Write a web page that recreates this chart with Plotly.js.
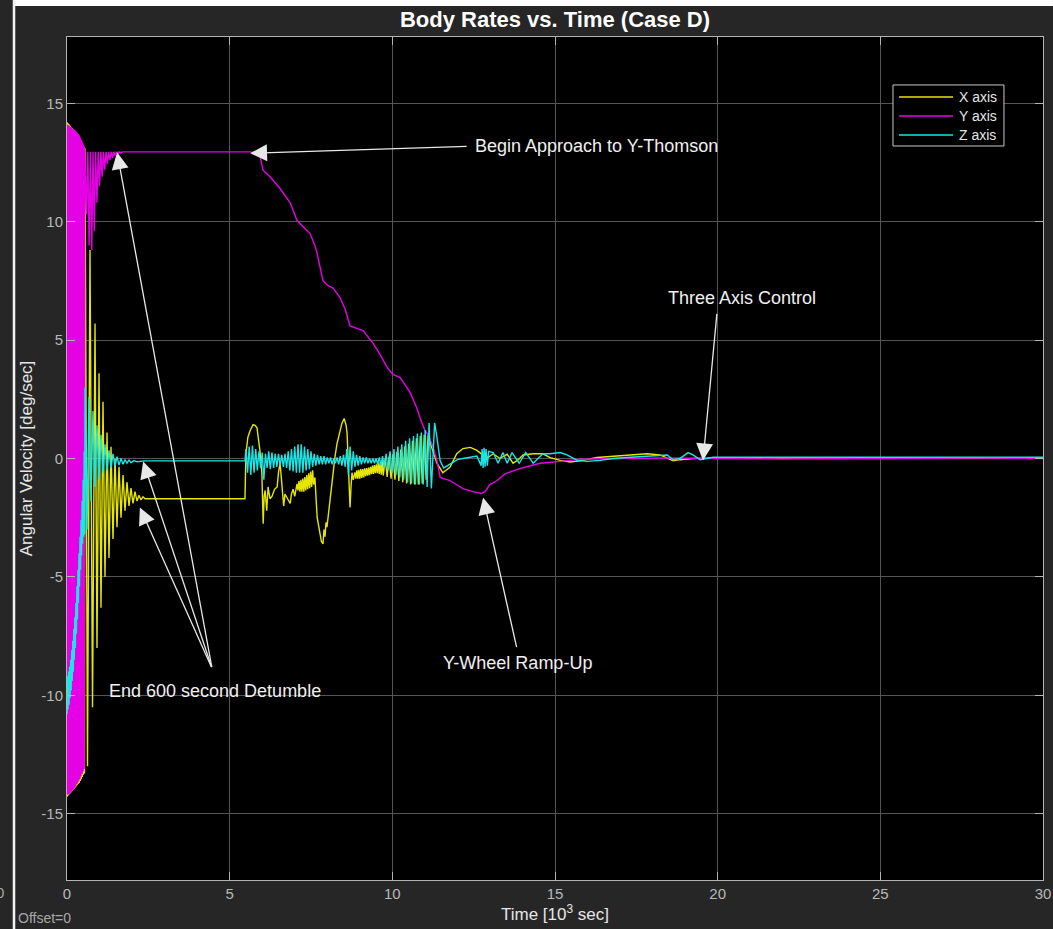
<!DOCTYPE html>
<html>
<head>
<meta charset="utf-8">
<script src="https://cdn.plot.ly/plotly-3.0.1.min.js"></script>
<style>html,body{margin:0;padding:0;background:#262626;}#chart{width:1053px;height:929px;}</style>
</head>
<body>
<div id="chart"></div>
<script>
// ---- Data (time in 10^3 sec, angular velocity in deg/sec) ----
var seriesNames = ["X axis", "Y axis", "Z axis"];

var tX = [0.000,0.008,0.024,0.040,0.056,0.072,0.088,0.104,0.120,0.136,0.152,0.168,0.184,0.200,0.216,0.232,0.248,0.264,0.280,0.296,0.312,0.328,0.344,0.360,0.376,0.392,0.408,0.424,0.440,0.456,0.472,0.488,0.504,0.520,0.536,0.553,
0.630,0.707,0.784,0.861,0.922,0.984,1.045,1.107,1.168,1.230,1.291,1.353,1.414,1.476,1.537,1.599,1.660,1.722,1.783,1.844,1.906,1.967,2.029,2.090,2.152,2.213,2.275,2.336,2.398,5.470,
5.50,5.56,5.63,5.72,5.78,5.84,5.93,5.99,6.03,6.06,6.09,6.14,6.18,6.24,6.30,6.38,6.46,6.50,6.55,6.58,6.61,6.66,6.70,6.78,6.86,6.90,6.95,7.00,7.07,
7.10,7.13,7.16,7.19,7.22,7.25,7.28,7.31,7.34,7.37,7.40,7.43,7.46,7.49,7.52,7.55,7.58,7.62,7.69,7.74,7.78,7.82,7.87,7.90,7.93,7.96,7.99,8.04,8.08,8.13,8.18,8.24,8.30,8.38,8.45,8.52,8.58,8.61,8.64,8.67,8.70,8.73,8.76,8.80,
8.85,8.88,8.91,8.94,8.97,9.00,9.03,9.06,9.09,9.12,9.15,9.18,9.21,9.24,9.27,9.30,9.33,9.36,9.39,9.42,9.45,9.48,9.51,9.54,9.57,9.60,9.63,9.66,9.69,
9.72,9.78,9.84,9.90,9.96,10.02,10.08,10.14,10.20,10.26,10.32,10.38,10.44,10.50,10.56,10.62,10.68,10.74,10.80,10.86,10.92,10.98,11.04,11.10,11.20,11.37,11.55,11.77,11.98,12.17,12.40,12.60,12.79,12.95,
13.10,13.31,13.53,13.71,13.87,14.02,14.33,14.63,14.85,15.16,15.46,15.77,16.29,16.78,17.31,17.83,18.23,18.45,18.63,18.84,19.24,20.0,22.0,24.0,26.0,28.0,30.0];
var vX = [-14.30,14.20,-14.25,14.15,-14.20,14.10,-14.15,14.05,-14.10,14.00,-14.05,13.95,-14.00,13.90,-13.95,13.85,-13.90,13.80,-13.85,13.75,-13.80,13.70,-13.75,13.65,-13.70,13.55,-13.62,13.45,-13.55,13.35,-13.45,13.25,-13.35,13.15,-13.30,13.10,
-13.0,8.8,-10.5,5.7,-8.0,3.6,-6.3,2.4,-5.0,1.1,-4.2,0.5,-3.4,0.0,-2.9,-0.35,-2.5,-0.7,-2.2,-1.0,-2.0,-1.25,-1.9,-1.4,-1.8,-1.55,-1.75,-1.62,-1.7,-1.7,
0.2,0.9,1.18,1.43,1.4,1.3,0.34,-0.63,-2.75,-1.6,-1.35,-2.2,-1.2,-1.7,-1.6,-1.3,-1.2,-0.6,-0.2,-0.8,-1.2,-2.0,-1.5,-1.7,-1.9,-1.5,-1.3,-1.6,-1.07,
-1.35,-0.95,-1.40,-0.90,-1.40,-0.85,-1.40,-0.78,-1.35,-0.70,-1.30,-0.62,-1.25,-0.55,-1.20,-0.50,-1.10,-0.80,-2.5,-2.9,-3.17,-3.5,-3.6,-3.0,-3.3,-2.7,-2.9,-2.3,-1.77,-1.0,-0.37,0.1,0.63,1.1,1.48,1.69,1.4,1.05,-0.08,-1.2,-2.07,-1.2,-0.6,-0.9,
-0.59,-0.85,-0.5,-0.85,-0.48,-0.85,-0.45,-0.82,-0.45,-0.8,-0.42,-0.75,-0.4,-0.72,-0.38,-0.7,-0.35,-0.66,-0.3,-0.65,-0.28,-0.62,-0.25,-0.62,-0.2,-0.65,-0.15,-0.68,-0.1,
-0.72,0.0,-0.78,0.08,-0.85,0.18,-0.9,0.28,-0.95,0.38,-1.0,0.5,-1.05,0.62,-1.1,0.75,-1.1,0.85,-1.1,0.95,-1.05,1.0,-0.9,1.05,0.5,-0.2,-0.6,-0.37,0.2,0.42,0.47,0.34,0.13,0.05,
0.2,0.0,0.18,-0.2,-0.05,0.15,0.2,0.2,0.04,-0.08,-0.15,-0.1,0.04,0.1,0.15,0.2,0.15,0.0,-0.1,-0.05,0.0,0.02,0.03,0.02,0.03,0.02,0.03];

var tY = [0.000,0.016,0.032,0.048,0.064,0.080,0.096,0.112,0.128,0.144,0.160,0.176,0.192,0.208,0.224,0.240,0.256,0.272,0.288,0.304,0.320,0.336,0.352,0.368,0.384,0.400,0.416,0.432,0.448,0.464,0.480,0.496,0.512,0.528,0.544,
0.600,0.640,0.680,0.720,0.760,0.800,0.840,0.880,0.920,0.960,1.000,1.040,1.080,1.120,1.160,1.200,1.240,1.280,1.320,1.360,1.400,1.440,1.480,1.520,1.560,1.600,1.650,1.700,5.630,
5.78,5.93,5.99,6.03,6.24,6.55,6.86,7.07,7.32,7.47,7.62,7.69,7.78,7.87,8.02,8.18,8.39,8.55,8.70,8.91,9.10,9.41,9.62,9.84,10.02,10.24,10.39,10.54,10.67,10.76,10.88,11.00,11.10,11.25,11.37,11.47,11.77,12.17,12.48,12.73,12.85,13.00,13.22,13.46,13.93,14.54,15.16,15.77,17.0,18.5,20.0,22.0,25.0,28.0,30.0];
var vY = [14.10,-14.20,14.08,-14.18,14.05,-14.15,14.02,-14.10,14.00,-14.05,13.95,-14.00,13.92,-13.95,13.88,-13.90,13.85,-13.82,13.80,-13.75,13.75,-13.68,13.70,-13.60,13.62,-13.52,13.55,-13.42,13.45,-13.32,13.35,-13.22,13.25,-13.10,13.10,
10.3,12.95,9.0,12.95,8.8,12.95,9.6,12.95,10.8,12.95,11.5,12.95,11.9,12.95,12.2,12.95,12.45,12.95,12.6,12.95,12.7,12.95,12.8,12.95,12.85,12.95,12.9,12.95,12.95,
12.9,12.8,12.4,12.17,11.9,11.4,10.8,10.05,9.7,9.5,9.0,8.66,8.07,7.5,7.3,7.2,6.8,6.3,5.6,5.5,5.4,4.86,4.4,3.85,3.55,3.42,3.1,2.8,2.4,2.1,1.6,1.2,1.0,0.5,-0.08,-0.8,-0.93,-1.27,-1.4,-1.48,-1.4,-1.1,-0.93,-0.65,-0.42,-0.2,-0.12,-0.03,0.0,0.02,0.0,-0.02,0.0,0.02,0.0];

var tZ = [0.000,0.016,0.032,0.048,0.064,0.080,0.096,0.112,0.128,0.144,0.160,0.176,0.192,0.208,0.224,0.240,0.256,0.272,0.288,0.304,0.320,0.336,0.352,0.368,0.384,0.400,0.416,0.432,0.448,0.464,0.480,0.496,0.512,0.528,0.544,
0.553,0.615,0.676,0.738,0.799,0.861,0.922,0.984,1.045,1.107,1.168,1.230,1.291,1.353,1.414,1.476,1.537,1.599,1.660,1.722,1.783,1.844,1.906,1.967,2.060,2.150,2.398,5.470,
5.50,5.55,5.60,5.65,5.70,5.75,5.80,5.85,5.90,5.95,6.00,6.05,6.10,6.15,6.20,6.25,6.30,6.35,6.40,6.45,6.50,6.55,6.60,6.65,6.70,6.75,6.80,6.85,6.90,6.95,7.00,7.05,7.10,7.15,7.20,7.25,7.30,7.35,7.40,7.45,7.50,7.55,7.60,7.65,7.70,7.75,7.80,7.85,7.90,7.95,
8.00,8.05,8.10,8.15,8.20,8.25,8.30,8.35,8.40,8.45,8.50,8.55,8.60,8.65,8.70,8.75,8.80,8.85,8.90,8.95,9.00,9.05,9.10,9.15,9.20,9.25,9.30,9.35,9.40,9.45,9.50,9.55,9.60,9.65,9.70,
9.75,9.81,9.87,9.93,9.99,10.05,10.11,10.17,10.23,10.29,10.35,10.41,10.47,10.53,10.59,10.65,10.71,10.77,10.83,10.89,10.95,11.01,11.07,11.13,11.20,11.30,11.37,11.47,11.58,11.70,11.85,12.00,12.17,12.40,12.60,
12.73,12.76,12.79,12.82,12.85,12.88,12.92,12.96,13.10,13.25,13.40,13.53,13.68,13.90,14.10,14.33,14.63,14.85,15.16,15.37,15.68,15.99,16.39,16.78,17.31,18.02,18.45,18.63,18.84,19.09,19.24,19.46,19.86,22.0,25.0,28.0,30.0];
var vZ = [-10.8,-9.2,-10.6,-9.0,-10.4,-8.8,-10.1,-8.5,-9.8,-8.1,-9.4,-7.7,-9.0,-7.2,-8.5,-6.7,-8.0,-6.1,-7.4,-5.4,-6.8,-4.7,-6.1,-4.0,-5.4,-3.3,-4.7,-2.6,-4.1,-1.8,-3.6,-0.9,-3.3,0.3,-3.2,
3.0,-3.0,2.6,-1.8,2.0,-1.2,1.4,-0.9,1.0,-0.6,0.6,-0.5,0.35,-0.4,0.2,-0.33,0.08,-0.28,0.0,-0.24,-0.04,-0.2,-0.07,-0.17,-0.09,-0.14,-0.1,-0.1,
0.4,-0.6,0.5,-0.7,0.55,-0.6,0.4,-0.5,0.3,-0.4,0.25,-0.9,0.2,-0.4,0.3,-0.45,0.25,-0.4,0.2,-0.35,0.2,-0.3,0.15,-0.35,0.2,-0.4,0.3,-0.5,0.4,-0.55,0.5,-0.6,0.6,-0.6,0.6,-0.6,0.5,-0.5,0.4,-0.45,0.3,-0.35,0.2,-0.3,0.15,-0.25,0.1,-0.25,0.1,-0.25,
0.05,-0.2,0.05,-0.25,0.0,-0.2,0.05,-0.25,0.1,-0.3,0.15,-0.35,0.4,-0.7,0.5,-0.5,0.3,-0.35,0.15,-0.3,0.1,-0.25,0.05,-0.2,0.05,-0.2,0.0,-0.2,0.0,-0.2,0.0,-0.25,0.05,-0.3,0.1,
-0.4,0.2,-0.5,0.3,-0.6,0.4,-0.7,0.5,-0.8,0.6,-0.9,0.75,-1.0,0.85,-1.05,0.95,-1.1,1.05,-1.1,1.1,-1.1,1.2,-1.2,1.5,-1.27,1.5,0.9,-0.1,-0.4,-0.3,-0.2,-0.05,0.0,0.05,0.1,
-0.3,0.4,-0.4,0.45,-0.35,0.4,-0.3,0.3,0.25,-0.2,0.25,-0.2,0.25,-0.2,0.25,-0.2,0.2,0.2,0.25,0.15,-0.08,-0.12,-0.08,0.0,0.05,0.1,0.15,-0.05,0.0,0.25,0.15,-0.05,0.05,0.05,0.06,0.05,0.06];

var yTicks = [-15, -10, -5, 0, 5, 10, 15];
var xTicks = [0, 5, 10, 15, 20, 25, 30];

var colors = ["#e6e600", "#e600e6", "#19e6e6"];
var FONT = "Liberation Sans, Arial, Helvetica, sans-serif";

var traces = [
  {x: tX, y: vX, name: seriesNames[0], mode: "lines", line: {color: colors[0], width: 1.4}, showlegend: false},
  {x: tY, y: vY, name: seriesNames[1], mode: "lines", line: {color: colors[1], width: 1.4}, showlegend: false},
  {x: tZ, y: vZ, name: seriesNames[2], mode: "lines", line: {color: colors[2], width: 1.4}, showlegend: false}
];

function arrow(tx, ty, ax, ay) {
  return {x: tx, y: ty, ax: ax, ay: ay, xref: "x", yref: "y", axref: "x", ayref: "y",
    text: "", showarrow: true, arrowhead: 2, arrowsize: 2.6, arrowwidth: 1.3,
    arrowcolor: "#e8e8e8", standoff: 0, startstandoff: 0};
}
function label(txt, x, y) {
  return {x: x, y: y, xref: "x", yref: "y", text: txt, showarrow: false,
    font: {family: FONT, size: 18, color: "#f0f0f0"}, xanchor: "center", yanchor: "middle"};
}

var annotations = [
  arrow(5.63, 12.89, 12.33, 13.18),
  label("Begin Approach to Y-Thomson", 16.29, 13.18),
  arrow(19.55, -0.08, 19.98, 6.17),
  label("Three Axis Control", 20.75, 6.76),
  arrow(12.79, -1.65, 13.83, -8.03),
  label("Y-Wheel Ramp-Up", 13.86, -8.62),
  arrow(1.54, 12.93, 4.46, -8.87),
  arrow(2.34, -0.13, 4.46, -8.87),
  arrow(2.24, -2.07, 4.46, -8.87),
  label("End 600 second Detumble", 4.55, -9.80),
  {xref: "paper", yref: "paper", x: -0.0523, y: -0.045, xanchor: "left", yanchor: "middle",
    text: "Offset=0", showarrow: false, font: {family: FONT, size: 14, color: "#a8a8a8"}},
  {xref: "paper", yref: "paper", x: -0.0625, y: -0.0154, xanchor: "right", yanchor: "middle",
    text: "0", showarrow: false, font: {family: FONT, size: 15, color: "#a8a8a8"}}
];

// custom legend box (lines + labels), matching the scope-style legend
var legendY = [0.9288, 0.9063, 0.8837];
var shapes = [
  {type: "rect", xref: "paper", yref: "paper", x0: -0.0553, x1: 1.0102, y0: 1.0368, y1: 1.05,
    fillcolor: "#ffffff", line: {width: 0}, layer: "below"},
  {type: "rect", xref: "paper", yref: "paper", x0: -0.0556, x1: -0.0530, y0: -0.06, y1: 1.05,
    fillcolor: "#f2f2f2", line: {width: 0}, layer: "below"},
  {type: "rect", xref: "paper", yref: "paper", x0: 0.8463, x1: 0.9600, y0: 0.8707, y1: 0.9431,
    fillcolor: "#000000", line: {color: "#c8c8c8", width: 1}, layer: "above"}
];
for (var i = 0; i < seriesNames.length; i++) {
  shapes.push({type: "line", xref: "paper", yref: "paper", x0: 0.8525, x1: 0.9078,
    y0: legendY[i], y1: legendY[i], line: {color: colors[i], width: 1.5}, layer: "above"});
  annotations.push({xref: "paper", yref: "paper", x: 0.9119, y: legendY[i], xanchor: "left",
    yanchor: "middle", text: seriesNames[i], showarrow: false,
    font: {family: FONT, size: 14, color: "#e6e6e6"}});
}

var axisCommon = {
  showgrid: true, gridcolor: "#555555", gridwidth: 1, zeroline: false,
  showline: true, linecolor: "#b4b4b4", linewidth: 1, mirror: "ticks",
  ticks: "inside", ticklen: 8, tickcolor: "#b4b4b4",
  tickfont: {family: FONT, size: 15, color: "#b8b8b8"}
};

var layout = {
  width: 1053, height: 929,
  margin: {l: 67, r: 10, t: 37, b: 49, pad: 0},
  paper_bgcolor: "#262626", plot_bgcolor: "#000000",
  font: {family: FONT, color: "#e0e0e0"},
  title: {text: "<b>Body Rates vs. Time (Case D)</b>", x: 0.5, xref: "paper", xanchor: "center",
    y: 0.9795, yref: "container", yanchor: "middle",
    font: {family: FONT, size: 22, color: "#ffffff"}},
  xaxis: Object.assign({}, axisCommon, {
    range: [0, 30], tickvals: xTicks, ticktext: xTicks.map(String),
    title: {text: "Time [10<sup>3</sup> sec]", font: {family: FONT, size: 17, color: "#e6e6e6"}, standoff: 2}
  }),
  yaxis: Object.assign({}, axisCommon, {
    range: [-17.8, 17.8], tickvals: yTicks, ticktext: yTicks.map(String),
    title: {text: "Angular Velocity [deg/sec]", font: {family: FONT, size: 17, color: "#e6e6e6"}, standoff: 4}
  }),
  showlegend: false,
  annotations: annotations,
  shapes: shapes
};

Plotly.newPlot("chart", traces, layout, {displayModeBar: false, staticPlot: true});
</script>
</body>
</html>
